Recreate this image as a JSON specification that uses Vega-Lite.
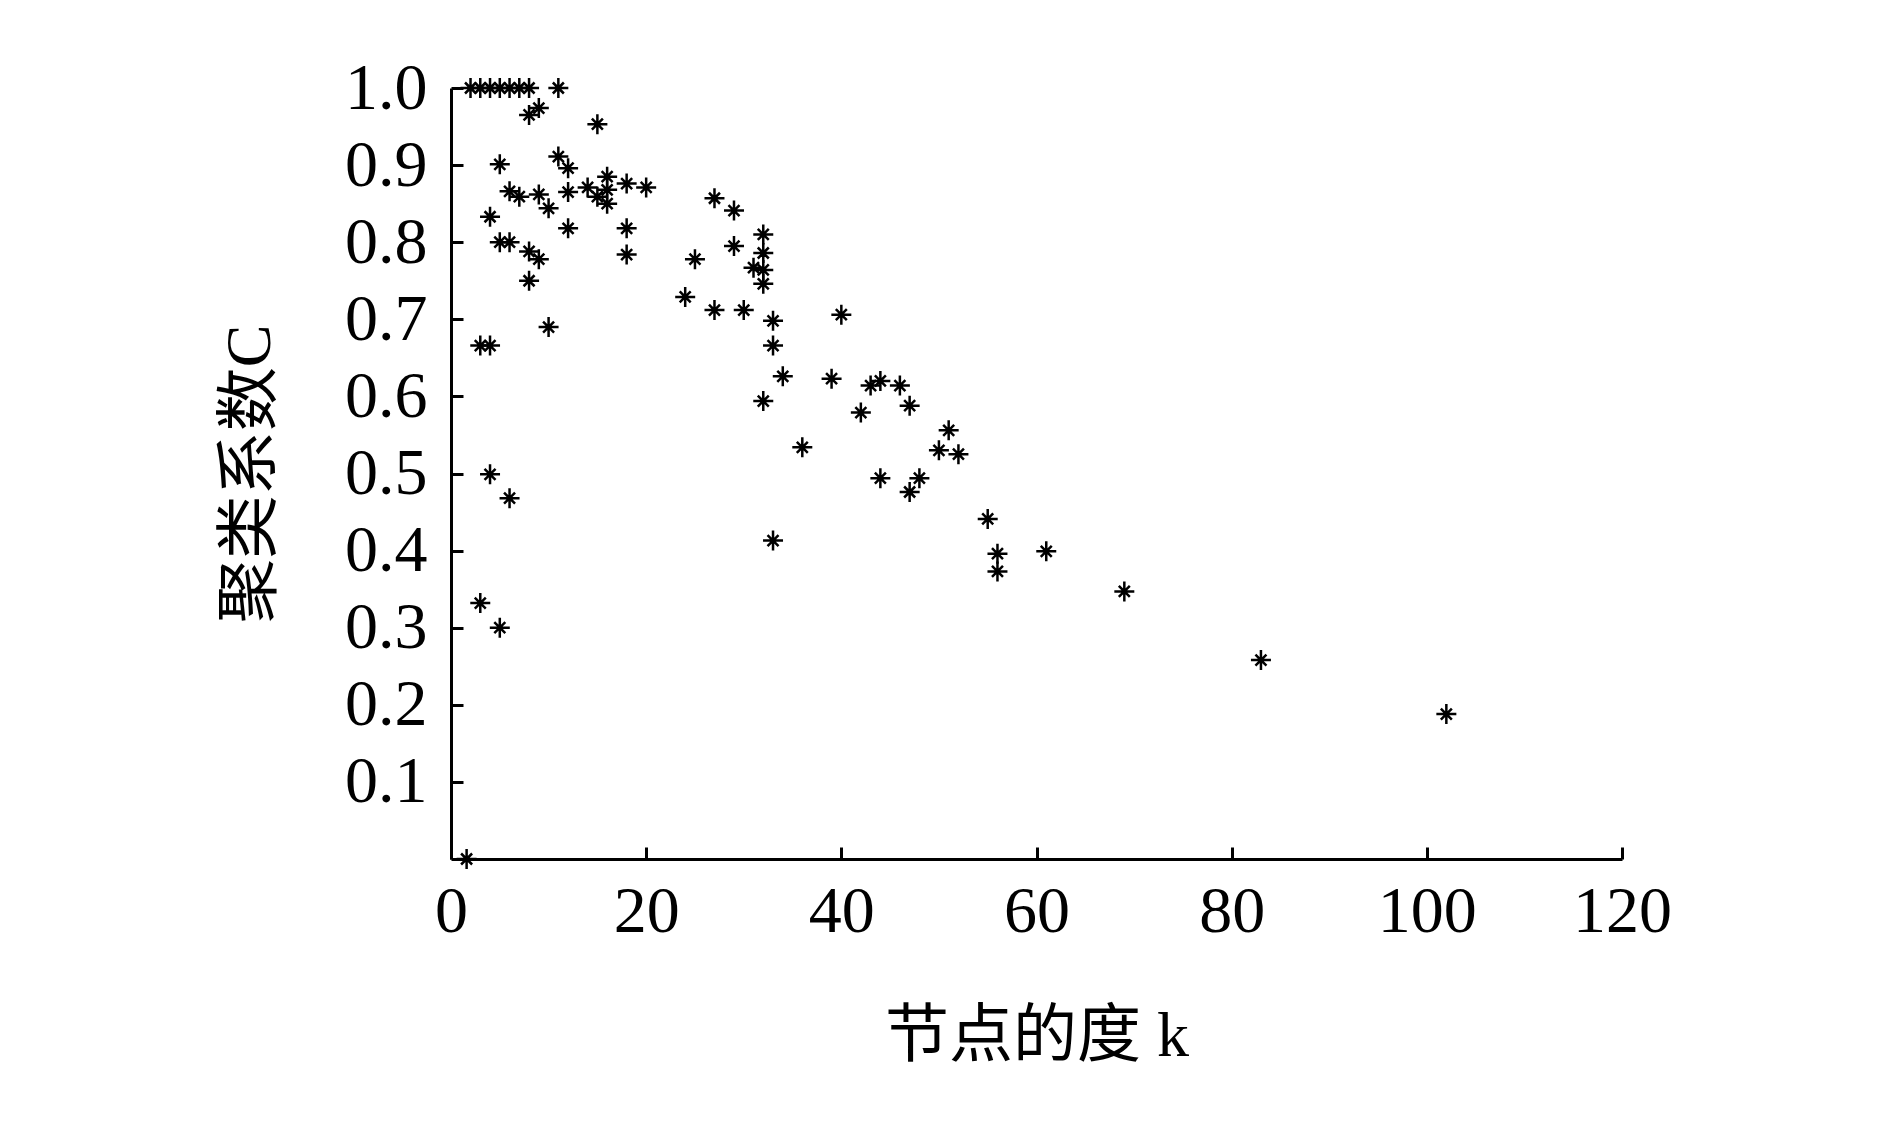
{
  "$schema": "https://vega.github.io/schema/vega-lite/v6.json",
  "width": 1171,
  "height": 771,
  "autosize": {"type": "none"},
  "padding": {"left": 451, "top": 88, "right": 268, "bottom": 275},
  "background": "white",
  "config": {
    "view": {"stroke": null},
    "axis": {
      "grid": false,
      "domainColor": "black",
      "domainWidth": 3,
      "tickColor": "black",
      "tickWidth": 3,
      "tickSize": -12,
      "labelFont": "Liberation Serif",
      "labelFontSize": 66,
      "labelColor": "black",
      "labelFlush": false,
      "labelOverlap": false,
      "titleFont": "Liberation Serif, Noto Sans CJK SC",
      "titleFontSize": 64,
      "titleFontWeight": "normal",
      "titleColor": "black"
    }
  },
  "data": {
    "values": [
      {"k": 2, "C": 1.0}, {"k": 3, "C": 1.0}, {"k": 4, "C": 1.0}, {"k": 5, "C": 1.0},
      {"k": 6, "C": 1.0}, {"k": 7, "C": 1.0}, {"k": 8, "C": 1.0}, {"k": 11, "C": 1.0},
      {"k": 8, "C": 0.965}, {"k": 9, "C": 0.974}, {"k": 15, "C": 0.953}, {"k": 11, "C": 0.911},
      {"k": 12, "C": 0.896}, {"k": 5, "C": 0.901}, {"k": 6, "C": 0.866}, {"k": 7, "C": 0.859},
      {"k": 9, "C": 0.862}, {"k": 10, "C": 0.844}, {"k": 12, "C": 0.865}, {"k": 14, "C": 0.871},
      {"k": 15, "C": 0.859}, {"k": 16, "C": 0.885}, {"k": 16, "C": 0.868}, {"k": 16, "C": 0.85},
      {"k": 18, "C": 0.876}, {"k": 20, "C": 0.871}, {"k": 4, "C": 0.833}, {"k": 5, "C": 0.8},
      {"k": 6, "C": 0.8}, {"k": 8, "C": 0.788}, {"k": 9, "C": 0.778}, {"k": 8, "C": 0.75},
      {"k": 12, "C": 0.818}, {"k": 18, "C": 0.818}, {"k": 18, "C": 0.784}, {"k": 10, "C": 0.69},
      {"k": 3, "C": 0.666}, {"k": 4, "C": 0.666}, {"k": 27, "C": 0.857}, {"k": 29, "C": 0.841},
      {"k": 29, "C": 0.795}, {"k": 32, "C": 0.81}, {"k": 32, "C": 0.786}, {"k": 31, "C": 0.767},
      {"k": 32, "C": 0.764}, {"k": 32, "C": 0.746}, {"k": 25, "C": 0.778}, {"k": 24, "C": 0.729},
      {"k": 27, "C": 0.712}, {"k": 30, "C": 0.712}, {"k": 33, "C": 0.698}, {"k": 33, "C": 0.666},
      {"k": 34, "C": 0.626}, {"k": 39, "C": 0.623}, {"k": 32, "C": 0.594}, {"k": 36, "C": 0.534},
      {"k": 33, "C": 0.413}, {"k": 4, "C": 0.499}, {"k": 6, "C": 0.468}, {"k": 3, "C": 0.332},
      {"k": 5, "C": 0.3}, {"k": 1.6, "C": 0.0}, {"k": 40, "C": 0.706}, {"k": 43, "C": 0.614},
      {"k": 44, "C": 0.62}, {"k": 46, "C": 0.614}, {"k": 47, "C": 0.588}, {"k": 42, "C": 0.579},
      {"k": 51, "C": 0.556}, {"k": 50, "C": 0.53}, {"k": 52, "C": 0.525}, {"k": 44, "C": 0.494},
      {"k": 48, "C": 0.494}, {"k": 47, "C": 0.476}, {"k": 55, "C": 0.441}, {"k": 56, "C": 0.396},
      {"k": 56, "C": 0.373}, {"k": 61, "C": 0.399}, {"k": 69, "C": 0.347}, {"k": 83, "C": 0.258},
      {"k": 102, "C": 0.188}
    ]
  },
  "mark": {
    "type": "point",
    "shape": "M-1,0L1,0M0,-1L0,1M-0.55,-0.55L0.55,0.55M-0.55,0.55L0.55,-0.55",
    "filled": false,
    "stroke": "black",
    "strokeWidth": 2.5,
    "size": 400,
    "opacity": 1
  },
  "encoding": {
    "x": {
      "field": "k",
      "type": "quantitative",
      "scale": {"domain": [0, 120], "nice": false},
      "axis": {
        "values": [0, 20, 40, 60, 80, 100, 120],
        "labelPadding": 32,
        "title": "节点的度 k",
        "titlePadding": 60
      }
    },
    "y": {
      "field": "C",
      "type": "quantitative",
      "scale": {"domain": [0, 1], "nice": false},
      "axis": {
        "values": [0.1, 0.2, 0.3, 0.4, 0.5, 0.6, 0.7, 0.8, 0.9, 1.0],
        "format": ".1f",
        "labelPadding": 36,
        "title": "聚类系数C",
        "titlePadding": 62
      }
    }
  }
}
